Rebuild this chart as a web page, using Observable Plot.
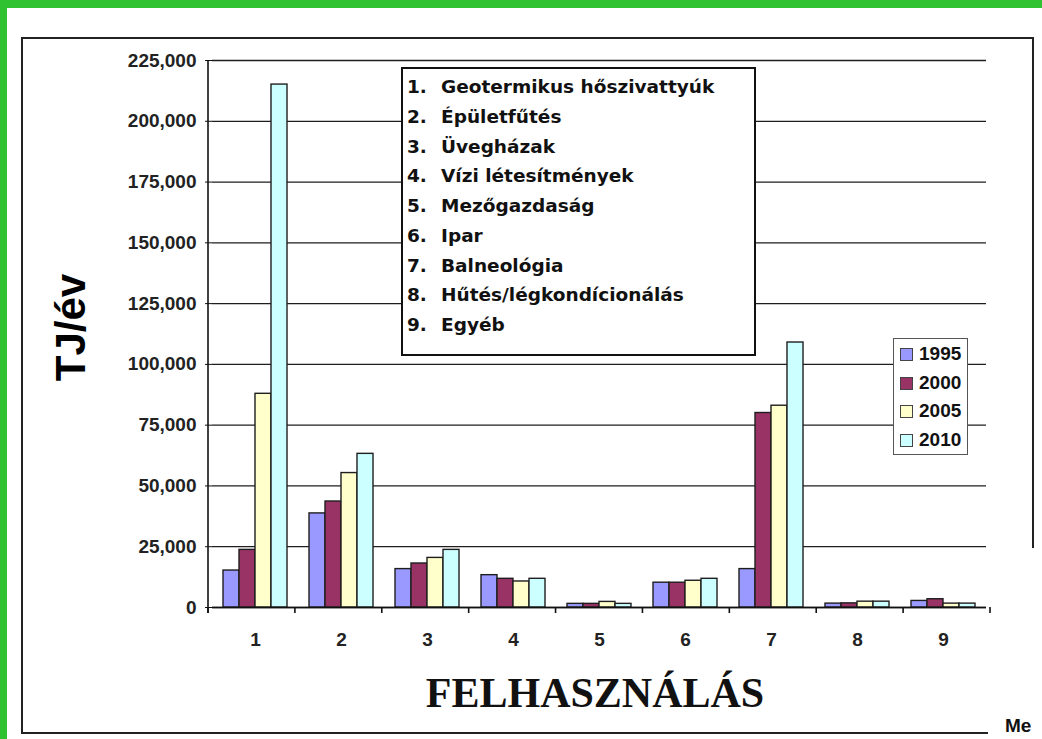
<!DOCTYPE html>
<html>
<head>
<meta charset="utf-8">
<script src="https://cdn.jsdelivr.net/npm/d3@7"></script>
<script src="https://cdn.jsdelivr.net/npm/@observablehq/plot@0.6"></script>
<style>
  html, body { margin: 0; padding: 0; background: #fff; }
  body { width: 1042px; height: 739px; overflow: hidden; position: relative; font-family: "Liberation Sans", Arial, sans-serif; }
  .abs { position: absolute; }
  #chart { position: absolute; left: 0; top: 0; }
  .catrow { position: absolute; left: 4px; font-family: "DejaVu Sans", sans-serif; font-weight: bold; font-size: 18.5px; color: #111; white-space: nowrap; line-height: 20px; }
  .catrow .num { position: absolute; left: 0; }
  .catrow .txt { position: absolute; left: 34px; }
  .yrrow { position: absolute; left: 6px; height: 20px; line-height: 20px; font-weight: bold; font-size: 19px; color: #111; }
  .yrrow .sw { position: absolute; left: 0; top: 4px; width: 11px; height: 11px; border: 1px solid #444; }
  .yrrow .t { position: absolute; left: 19px; top: 0; }
</style>
</head>
<body>
<!-- green outer strips -->
<div class="abs" style="left:0;top:0;width:1042px;height:8px;background:#31c231;"></div>
<div class="abs" style="left:0;top:0;width:7px;height:739px;background:#31c231;"></div>
<!-- dark frame -->
<div class="abs" style="left:21px;top:37px;width:1013px;height:2px;background:#222;"></div>
<div class="abs" style="left:21px;top:37px;width:2px;height:697px;background:#222;"></div>
<div class="abs" style="left:21px;top:732px;width:967px;height:2px;background:#222;"></div>
<div class="abs" style="left:1032px;top:37px;width:2px;height:511px;background:#222;"></div>
<div id="chart"></div>
<div class="abs" style="left:1005px;top:716px;font-weight:bold;font-size:19px;line-height:20px;color:#111;">Me</div>
<script>
// ---- data ----
const categories = ["1", "2", "3", "4", "5", "6", "7", "8", "9"];
const years = ["1995", "2000", "2005", "2010"];
const v1995 = [15200, 38700, 15800, 13300, 1500, 10200, 15800, 1600, 2700];
const v2000 = [23700, 43600, 18100, 11800, 1500, 10200, 80000, 1700, 3400];
const v2005 = [87900, 55300, 20400, 10700, 2300, 11000, 83000, 2400, 1600];
const v2010 = [215100, 63200, 23700, 11800, 1500, 11800, 109000, 2400, 1600];
const yTicks = [0, 25000, 50000, 75000, 100000, 125000, 150000, 175000, 200000, 225000];
const yearColors = ["#9999ff", "#993366", "#ffffcc", "#ccffff"];
const useNames = [
  "Geotermikus hőszivattyúk",
  "Épületfűtés",
  "Üvegházak",
  "Vízi létesítmények",
  "Mezőgazdaság",
  "Ipar",
  "Balneológia",
  "Hűtés/légkondícionálás",
  "Egyéb"
];
const yLabel = "TJ/év";
const xLabel = "FELHASZNÁLÁS";

const series = [v1995, v2000, v2005, v2010];
const data = categories.flatMap((c, i) => years.map((yr, j) => ({cat: c, year: yr, value: series[j][i]})));

const plot = Plot.plot({
  width: 1042,
  height: 739,
  marginLeft: 208,
  marginRight: 52,
  marginTop: 60,
  marginBottom: 132,
  style: {fontFamily: "'Liberation Sans', Arial, sans-serif", background: "transparent", color: "#222", overflow: "visible"},
  fx: {domain: categories, padding: 0, label: null, axis: null},
  x: {domain: years, paddingInner: 0, paddingOuter: 0.674, axis: null},
  y: {domain: [0, 225000], label: null},
  color: {domain: years, range: yearColors},
  marks: [
    Plot.gridY(yTicks, {stroke: "#1e1e1e", strokeOpacity: 1, strokeWidth: 1.3}),
    Plot.barY(data, {fx: "cat", x: "year", y: "value", fill: "year", stroke: "#1e1e1e", strokeWidth: 1.4}),
    Plot.ruleY([0], {stroke: "#111", strokeWidth: 1.6}),
    Plot.axisY(yTicks, {tickSize: 7, tickPadding: 9, tickFormat: d3.format(","), fontSize: 19, fontWeight: "bold", label: null, stroke: "#111"}),
    Plot.axisFx({anchor: "bottom", tickSize: 0, tickPadding: 25, fontSize: 19, fontWeight: "bold", label: null})
  ]
});
document.getElementById("chart").appendChild(plot);

// extra axis pieces drawn from the plot's own scales
const fxs = plot.scale("fx"), ys = plot.scale("y");
const fxBand = d3.scaleBand().domain(fxs.domain).range(fxs.range)
  .paddingInner(fxs.paddingInner ?? 0).paddingOuter(fxs.paddingOuter ?? 0);
const yLin = d3.scaleLinear().domain(ys.domain).range(ys.range);
const svg = d3.select(plot);
const y0 = yLin(0), yTop = yLin(yTicks[yTicks.length - 1]);
const xLeft = fxBand(categories[0]);
const bounds = categories.map(c => fxBand(c)).concat([fxBand(categories[categories.length - 1]) + fxBand.bandwidth()]);
const g = svg.append("g").attr("stroke", "#111").attr("stroke-width", 1.6);
g.append("line").attr("x1", xLeft).attr("x2", xLeft).attr("y1", yTop).attr("y2", y0 + 6);
bounds.forEach(b => g.append("line").attr("x1", b).attr("x2", b).attr("y1", y0).attr("y2", y0 + 6));

// axis titles
svg.append("text")
  .attr("transform", `translate(85, ${(y0 + yTop) / 2 - 6}) rotate(-90)`)
  .attr("text-anchor", "middle")
  .attr("font-family", "'Liberation Sans', Arial, sans-serif")
  .attr("font-weight", "bold").attr("font-size", 42).attr("fill", "#000")
  .text(yLabel);
svg.append("text")
  .attr("x", (fxs.range[0] + fxs.range[1]) / 2 - 4)
  .attr("y", 707)
  .attr("text-anchor", "middle")
  .attr("font-family", "'Liberation Serif', 'Times New Roman', serif")
  .attr("font-weight", "bold").attr("font-size", 42).attr("fill", "#111")
  .text(xLabel);

// category name box
const box = document.createElement("div");
box.className = "abs";
box.style.cssText = "left:401px;top:67px;width:351px;height:285px;border:2px solid #111;background:#fff;";
useNames.forEach((name, i) => {
  const row = document.createElement("div");
  row.className = "catrow";
  row.style.top = (8 + i * 29.75) + "px";
  row.innerHTML = `<span class="num">${i + 1}.</span><span class="txt"></span>`;
  row.querySelector(".txt").textContent = name;
  box.appendChild(row);
});
document.body.appendChild(box);

// year legend
const leg = document.createElement("div");
leg.className = "abs";
leg.style.cssText = "left:893px;top:338px;width:73px;height:115px;border:1.5px solid #555;background:#fff;";
years.forEach((yr, i) => {
  const row = document.createElement("div");
  row.className = "yrrow";
  row.style.top = (5 + i * 28.7) + "px";
  row.innerHTML = `<span class="sw" style="background:${yearColors[i]}"></span><span class="t">${yr}</span>`;
  leg.appendChild(row);
});
document.body.appendChild(leg);
</script>
</body>
</html>
